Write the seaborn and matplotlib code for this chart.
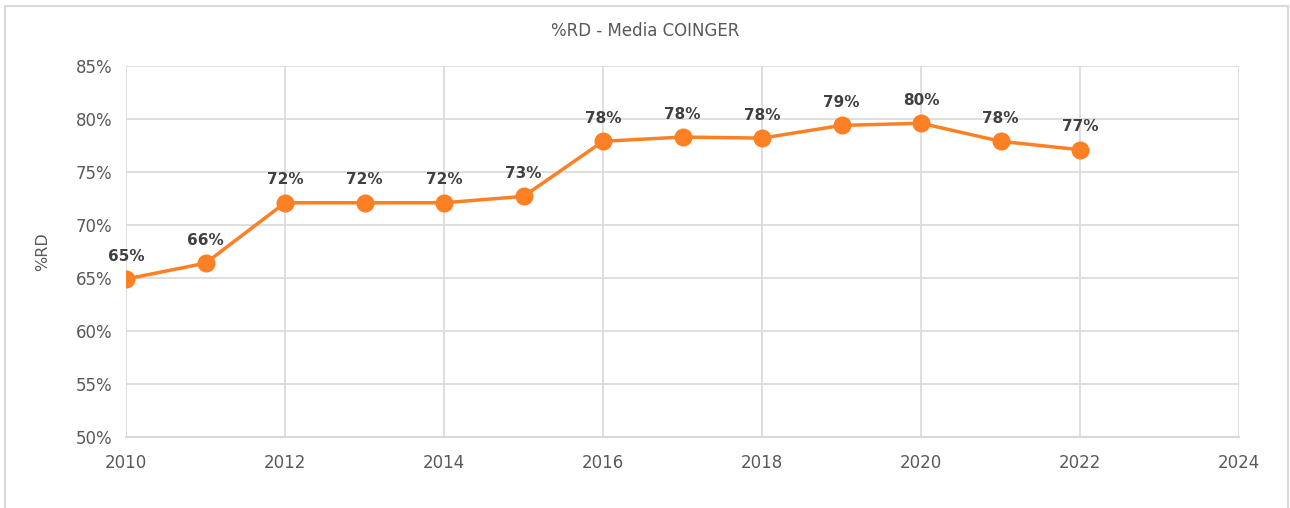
import matplotlib
matplotlib.use("Agg")
import matplotlib.pyplot as plt
import seaborn as sns
import pandas as pd
from matplotlib.patches import Rectangle
from matplotlib.ticker import PercentFormatter

# =========================
# DATA
# =========================

years = [2010, 2011, 2012, 2013, 2014, 2015, 2016, 2017, 2018, 2019, 2020, 2021, 2022]
rd_pct = [64.9, 66.4, 72.1, 72.1, 72.1, 72.7, 77.9, 78.3, 78.2, 79.4, 79.6, 77.9, 77.1]
point_labels = ["65%", "66%", "72%", "72%", "72%", "73%", "78%", "78%", "78%", "79%", "80%", "78%", "77%"]

df = pd.DataFrame({"year": years, "rd": rd_pct})

# =========================
# STYLE
# =========================

sns.set_theme(style="whitegrid")
plt.rcParams['font.family'] = ['DejaVu Sans']

text_color = "#595959"
grid_color = "#d9d9d9"
line_color = "#fd8024"

fig = plt.figure(figsize=(12.9, 5.08), dpi=100)
ax = fig.add_axes([0.0977, 0.1398, 0.8628, 0.7302])

sns.lineplot(
    data=df,
    x="year",
    y="rd",
    color=line_color,
    linewidth=2.5,
    marker="o",
    markersize=13,
    markeredgewidth=0,
    ax=ax
)

# data labels
for x, y, lab in zip(years, rd_pct, point_labels):
    ax.annotate(
        lab,
        (x, y),
        xytext=(0, 11),
        textcoords="offset points",
        ha="center",
        va="bottom",
        fontsize=11,
        fontweight="bold",
        color="#404040"
    )

ax.set_xlim(2010, 2024)
ax.set_ylim(50, 85)
ax.set_xticks(range(2010, 2025, 2))
ax.set_yticks(range(50, 86, 5))
ax.yaxis.set_major_formatter(PercentFormatter(decimals=0))

ax.grid(True, color=grid_color, linewidth=1.2)
for side in ["top", "right", "left"]:
    ax.spines[side].set_visible(False)
ax.spines["bottom"].set_color(grid_color)
ax.spines["bottom"].set_linewidth(1.5)

ax.tick_params(axis="both", labelsize=12, colors=text_color, length=0)
ax.tick_params(axis="x", pad=12)
ax.tick_params(axis="y", pad=10)

ax.set_xlabel("")
ax.set_ylabel("%RD", fontsize=11.5, color=text_color, labelpad=18)

# title centred on the whole figure
fig.text(0.5, 1 - 31 / 508, "%RD - Media COINGER", ha="center", va="center",
         fontsize=12, color=text_color)

# chart border
fig.patches.append(Rectangle(
    (5 / 1290, -0.02),
    1283 / 1290,
    1.02 - 6 / 508,
    transform=fig.transFigure,
    fill=False,
    edgecolor=grid_color,
    linewidth=1.5
))

plt.savefig("out.png", dpi=100)
plt.close()
